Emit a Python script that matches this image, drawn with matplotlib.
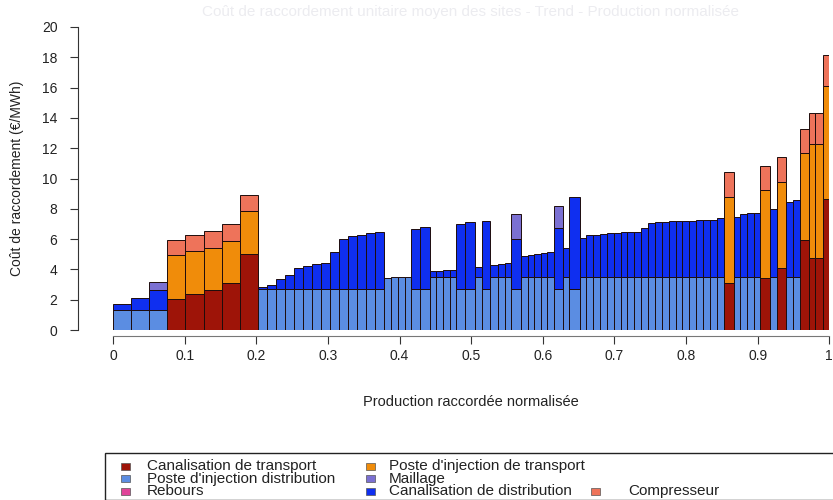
import numpy as np
import matplotlib
matplotlib.use("Agg")
import matplotlib.pyplot as plt
from matplotlib.patches import Rectangle
from matplotlib import font_manager

# bar widths = share of normalised production for each site
widths = [0.0253, 0.0253, 0.0253, 0.0253, 0.0253, 0.0253, 0.0253, 0.0253,
          0.0126, 0.0126, 0.0126, 0.0126, 0.0126, 0.0126, 0.0126, 0.0126, 0.0126, 0.0126, 0.0126, 0.0126, 0.0126, 0.0126,
          0.0094, 0.0094, 0.0094, 0.0094,
          0.0126, 0.013,
          0.0093, 0.0093, 0.0093, 0.0093,
          0.0116, 0.014, 0.0107, 0.0112, 0.0106, 0.0093, 0.0093, 0.014,
          0.0091, 0.0091, 0.0091, 0.0091, 0.0091,
          0.0126, 0.0093, 0.014, 0.0093,
          0.0096, 0.0096, 0.0096, 0.0096, 0.0096, 0.0096, 0.0096, 0.0096, 0.0096, 0.0096,
          0.0096, 0.0096, 0.0096, 0.0096, 0.0096, 0.0096, 0.0096, 0.0096, 0.0096, 0.0096,
          0.014, 0.0093, 0.0093, 0.0093, 0.0093, 0.014, 0.0093, 0.0126, 0.0093, 0.0098,
          0.0126, 0.0093, 0.0102, 0.009]

canal_transport = [0, 0, 0, 2.05, 2.4, 2.64, 3.12, 5.04,
                   0, 0, 0, 0, 0, 0, 0, 0, 0, 0, 0, 0, 0, 0,
                   0, 0, 0, 0,
                   0, 0,
                   0, 0, 0, 0,
                   0, 0, 0, 0, 0, 0, 0, 0,
                   0, 0, 0, 0, 0,
                   0, 0, 0, 0,
                   0, 0, 0, 0, 0, 0, 0, 0, 0, 0,
                   0, 0, 0, 0, 0, 0, 0, 0, 0, 0,
                   3.1, 0, 0, 0, 0, 3.45, 0, 4.07, 0, 0,
                   5.94, 4.78, 4.78, 8.65]

poste_transport = [0, 0, 0, 2.88, 2.8, 2.79, 2.78, 2.8,
                   0, 0, 0, 0, 0, 0, 0, 0, 0, 0, 0, 0, 0, 0,
                   0, 0, 0, 0,
                   0, 0,
                   0, 0, 0, 0,
                   0, 0, 0, 0, 0, 0, 0, 0,
                   0, 0, 0, 0, 0,
                   0, 0, 0, 0,
                   0, 0, 0, 0, 0, 0, 0, 0, 0, 0,
                   0, 0, 0, 0, 0, 0, 0, 0, 0, 0,
                   5.7, 0, 0, 0, 0, 5.79, 0, 5.72, 0, 0,
                   5.72, 7.47, 7.47, 7.48]

poste_distrib = [1.3, 1.3, 1.3, 0, 0, 0, 0, 0,
                 2.7, 2.7, 2.7, 2.7, 2.7, 2.7, 2.7, 2.7, 2.7, 2.7, 2.7, 2.7, 2.7, 2.7,
                 3.45, 3.48, 3.5, 3.52,
                 2.7, 2.7,
                 3.52, 3.52, 3.52, 3.52,
                 2.7, 2.7, 3.52, 2.7, 3.52, 3.52, 3.52, 2.7,
                 3.52, 3.52, 3.52, 3.52, 3.52,
                 2.7, 3.52, 2.7, 3.52,
                 3.52, 3.52, 3.52, 3.52, 3.52, 3.52, 3.52, 3.52, 3.52, 3.52,
                 3.52, 3.52, 3.52, 3.52, 3.52, 3.52, 3.52, 3.52, 3.52, 3.52,
                 0, 3.52, 3.52, 3.52, 3.52, 0, 3.52, 0, 3.52, 3.52,
                 0, 0, 0, 0]

canal_distrib = [0.4, 0.8, 1.35, 0, 0, 0, 0, 0,
                 0.12, 0.29, 0.67, 0.93, 1.41, 1.55, 1.64, 1.7, 2.47, 3.3, 3.5, 3.6, 3.68, 3.75,
                 0, 0, 0, 0,
                 3.94, 4.08,
                 0.39, 0.39, 0.44, 0.44,
                 4.3, 4.45, 0.64, 4.52, 0.77, 0.84, 0.93, 3.3,
                 1.36, 1.43, 1.5, 1.58, 1.65,
                 4.01, 1.87, 6.1, 2.57,
                 2.75, 2.78, 2.83, 2.88, 2.9, 2.93, 2.96, 2.98, 3.19, 3.52,
                 3.58, 3.63, 3.66, 3.68, 3.68, 3.7, 3.73, 3.73, 3.75, 3.89,
                 0, 3.96, 4.14, 4.18, 4.22, 0, 4.47, 0, 4.95, 5.03,
                 0, 0, 0, 0]

maillage = [0, 0, 0.55, 0, 0, 0, 0, 0,
            0, 0, 0, 0, 0, 0, 0, 0, 0, 0, 0, 0, 0, 0,
            0, 0, 0, 0,
            0, 0,
            0, 0, 0, 0,
            0, 0, 0, 0, 0, 0, 0, 1.66,
            0, 0, 0, 0, 0,
            1.47, 0, 0, 0,
            0, 0, 0, 0, 0, 0, 0, 0, 0, 0,
            0, 0, 0, 0, 0, 0, 0, 0, 0, 0,
            0, 0, 0, 0, 0, 0, 0, 0, 0, 0,
            0, 0, 0, 0]

compresseur = [0, 0, 0, 1.0, 1.08, 1.1, 1.08, 1.08,
               0, 0, 0, 0, 0, 0, 0, 0, 0, 0, 0, 0, 0, 0,
               0, 0, 0, 0,
               0, 0,
               0, 0, 0, 0,
               0, 0, 0, 0, 0, 0, 0, 0,
               0, 0, 0, 0, 0,
               0, 0, 0, 0,
               0, 0, 0, 0, 0, 0, 0, 0, 0, 0,
               0, 0, 0, 0, 0, 0, 0, 0, 0, 0,
               1.62, 0, 0, 0, 0, 1.61, 0, 1.61, 0, 0,
               1.58, 2.05, 2.05, 2.02]

x_ticks = [0, 0.1, 0.2, 0.3, 0.4, 0.5, 0.6, 0.7, 0.8, 0.9, 1.0]
x_tick_labels = ["0", "0.1", "0.2", "0.3", "0.4", "0.5", "0.6", "0.7", "0.8", "0.9", "1"]
y_ticks = [0, 2, 4, 6, 8, 10, 12, 14, 16, 18, 20]

c_ct = "#9e1408"
c_pt = "#f08c0a"
c_pd = "#5b8de2"
c_re = "#e0449a"
c_ma = "#7b70d2"
c_cd = "#0f2ff0"
c_co = "#ee735a"

fams = {f.name for f in font_manager.fontManager.ttflist}
main_font = "Liberation Sans" if "Liberation Sans" in fams else "DejaVu Sans"
leg_font = "Liberation Sans Narrow" if "Liberation Sans Narrow" in fams else main_font
plt.rcParams["font.family"] = [main_font, "DejaVu Sans"]

fig = plt.figure(figsize=(8.33, 5), dpi=100)
W, H = 833, 500
ax = fig.add_axes([113 / W, (H - 330) / H, (829.3 - 113) / W, (330 - 27) / H])

w = np.array(widths)
left = np.concatenate([[0], np.cumsum(w)[:-1]])
bottom = np.zeros(len(w))
for vals, col in [(canal_transport, c_ct), (poste_transport, c_pt), (poste_distrib, c_pd),
                  (canal_distrib, c_cd), (maillage, c_ma), (compresseur, c_co)]:
    v = np.array(vals, dtype=float)
    m = v > 0
    ax.bar(left[m], v[m], width=w[m], bottom=bottom[m], align="edge",
           color=col, edgecolor="#1e0c0c", linewidth=0.7)
    bottom += v

ax.set_xlim(0, 1)
ax.set_ylim(0, 20)
for s in ["top", "right"]:
    ax.spines[s].set_visible(False)
ax.spines["left"].set_position(("outward", 25))
ax.spines["left"].set_bounds(0, 20)
ax.spines["bottom"].set_position(("outward", 4))
ax.spines["bottom"].set_bounds(0, 1)
ax.spines["bottom"].set_color("#777777")
ax.spines["left"].set_color("#333333")
ax.set_xticks(x_ticks)
ax.set_xticklabels(x_tick_labels)
ax.set_yticks(y_ticks)
ax.tick_params(axis="both", labelsize=10, length=6, color="#333333", labelcolor="#222222")
ax.tick_params(axis="x", pad=4)
ax.tick_params(axis="y", pad=9)

ax.set_ylabel("Coût de raccordement (€/MWh)", fontsize=10, color="#222222")
ax.yaxis.set_label_coords(-0.124, 0.5)
ax.set_xlabel("Production raccordée normalisée", fontsize=10.5, color="#222222")
ax.xaxis.set_label_coords(0.5, -0.215)

fig.text(470 / W, 1 - 12 / H, "Coût de raccordement unitaire moyen des sites - Trend - Production normalisée",
         ha="center", va="center", fontsize=11, color="#ececf0")

# legend drawn in figure pixels (box runs off the bottom/right like the original)
fig.patches.append(Rectangle((105 / W, 0), (W - 105 + 5) / W, (H - 453) / H,
                             transform=fig.transFigure, fill=False, edgecolor="#222222",
                             linewidth=1, clip_on=False))
leg_labels = ["Canalisation de transport", "Poste d'injection distribution", "Rebours",
              "Poste d'injection de transport", "Maillage", "Canalisation de distribution",
              "Compresseur"]
leg_colors = [c_ct, c_pd, c_re, c_pt, c_ma, c_cd, c_co]
leg_pos = [(0, 0), (0, 1), (0, 2), (1, 0), (1, 1), (1, 2), (2, 2)]
col_marker = [121, 366, 591]
col_text = [147, 389, 628]
row_y = [466, 478.5, 491]
for lab, col, (ci, ri) in zip(leg_labels, leg_colors, leg_pos):
    yc = row_y[ri]
    fig.patches.append(Rectangle((col_marker[ci] / W, 1 - (yc + 3.5) / H), 9 / W, 7 / H,
                                 transform=fig.transFigure, facecolor=col,
                                 edgecolor="#555555", linewidth=0.5))
    fig.text(col_text[ci] / W, 1 - yc / H, lab, ha="left", va="center",
             fontsize=11, color="#222222", family=[leg_font, "DejaVu Sans"])

fig.savefig("out.png", dpi=100)
